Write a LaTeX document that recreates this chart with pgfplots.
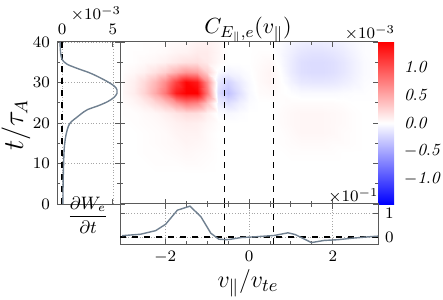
\documentclass[border=0pt]{standalone}
\usepackage{fontspec}
\usepackage{pgfplots}
\pgfplotsset{compat=1.18}
\definecolor{curve}{RGB}{112,128,144}
\definecolor{frame}{RGB}{90,90,90}
\begin{document}
\begin{tikzpicture}[font=\fontsize{8.5}{10}\selectfont]
\useasboundingbox (0,0) rectangle (221.5pt,149.5pt);
\pgfplotsset{
  every axis/.append style={
    scale only axis, anchor=south west,
    tick align=inside,
    tick label style={font=\fontsize{8.5}{10}\selectfont},
    axis line style={frame, line width=0.5pt},
    every tick/.style={frame, line width=0.4pt},
    major tick length=2.5pt, minor tick length=1.5pt,
  }
}
% ---------------- left panel ----------------
\begin{axis}[
  at={(28.5pt,47.5pt)}, width=31.5pt, height=81pt,
  xmin=-0.5, xmax=5.7, ymin=0, ymax=40,
  xtick={0,5}, ytick={0,10,20,30,40},
  minor y tick num=1,
  xticklabel pos=right,
  grid=major, grid style={densely dotted, gray!70, line width=0.3pt},
]
\addplot[black, dashed, line width=0.7pt] coordinates {(0,0) (0,40)};
\addplot[curve, line width=0.7pt, smooth] coordinates {
(0.08,0) (0.1,5) (0.15,10) (0.22,14) (0.38,17) (0.62,19.2) (0.9,20.3) (1.4,21.3)
(1.9,22.3) (2.5,23.3) (3.6,24.3) (4.5,25.3) (5.1,26.3) (5.4,27.3) (5.4,28.2)
(5.15,29.1) (4.4,30.3) (3.4,31.6) (2.6,32.5) (1.8,33.2) (0.95,34) (0.5,34.5)
(0.15,35.2) (0.0,35.7) (-0.13,37) (-0.18,38.5) (-0.2,40)};
\end{axis}
% ---------------- main panel ----------------
\begin{axis}[
  at={(60pt,47.5pt)}, width=129pt, height=81pt,
  view={0}{90},
  xmin=-3.08, xmax=3.08, ymin=0, ymax=40,
  xtick={-2,0,2}, minor x tick num=3,
  ytick={0,10,20,30,40}, minor y tick num=1,
  xticklabels={}, yticklabels={},
  axis on top,
  colormap={bwr}{rgb255(0cm)=(0,0,255); rgb255(1cm)=(255,255,255); rgb255(2cm)=(255,0,0)},
  point meta min=-1.45, point meta max=1.45,
  colorbar shift/.style={},
  colorbar,
  colorbar style={
    at={(parent axis.north east)}, anchor=north west,
    width=8pt,
    ytick={-1,-0.5,0,0.5,1},
    yticklabels={$-\mathit{1.0}$,$-\mathit{0.5}$,$\mathit{0.0}$,$\mathit{0.5}$,$\mathit{1.0}$},
    major tick length=0pt,
    yticklabel style={font=\fontsize{8.5}{10}\selectfont, xshift=1.5pt},
    axis line style={draw=none},
  },
]
\addplot3[surf, shader=interp, mesh/cols=25, point meta=z] coordinates {
(-3,0,0) (-2.75,0,0) (-2.5,0,0) (-2.25,0,0) (-2,0,0) (-1.75,0,0) (-1.5,0,0) (-1.25,0,0) (-1,0,0) (-0.75,0,0) (-0.5,0,0) (-0.25,0,0) (0,0,0) (0.25,0,0) (0.5,0,0) (0.75,0,0) (1,0,0) (1.25,0,0) (1.5,0,0) (1.75,0,0) (2,0,0) (2.25,0,0) (2.5,0,0) (2.75,0,0) (3,0,0)

(-3,7.5,0) (-2.75,7.5,0) (-2.5,7.5,0) (-2.25,7.5,0) (-2,7.5,0) (-1.75,7.5,0) (-1.5,7.5,0) (-1.25,7.5,0) (-1,7.5,0) (-0.75,7.5,0) (-0.5,7.5,0) (-0.25,7.5,0) (0,7.5,0) (0.25,7.5,0) (0.5,7.5,0) (0.75,7.5,0) (1,7.5,0) (1.25,7.5,0) (1.5,7.5,0) (1.75,7.5,0) (2,7.5,0) (2.25,7.5,0) (2.5,7.5,0) (2.75,7.5,0) (3,7.5,0)

(-3,10,0) (-2.75,10,0) (-2.5,10,0) (-2.25,10,0.01) (-2,10,0.01) (-1.75,10,0.01) (-1.5,10,0.02) (-1.25,10,0.02) (-1,10,0.01) (-0.75,10,0) (-0.5,10,0) (-0.25,10,0) (0,10,0) (0.25,10,0) (0.5,10,0) (0.75,10,0) (1,10,0) (1.25,10,0) (1.5,10,0) (1.75,10,0) (2,10,0) (2.25,10,0) (2.5,10,0) (2.75,10,0) (3,10,0)

(-3,12.5,0) (-2.75,12.5,0) (-2.5,12.5,0.01) (-2.25,12.5,0.01) (-2,12.5,0.02) (-1.75,12.5,0.03) (-1.5,12.5,0.04) (-1.25,12.5,0.03) (-1,12.5,0.02) (-0.75,12.5,0) (-0.5,12.5,0) (-0.25,12.5,0) (0,12.5,0) (0.25,12.5,0) (0.5,12.5,0) (0.75,12.5,0) (1,12.5,0.01) (1.25,12.5,0.01) (1.5,12.5,0.01) (1.75,12.5,0.01) (2,12.5,0.01) (2.25,12.5,0) (2.5,12.5,0) (2.75,12.5,0) (3,12.5,0)

(-3,15,0) (-2.75,15,0) (-2.5,15,0.01) (-2.25,15,0.02) (-2,15,0.03) (-1.75,15,0.04) (-1.5,15,0.06) (-1.25,15,0.05) (-1,15,0.03) (-0.75,15,0) (-0.5,15,0) (-0.25,15,0) (0,15,0) (0.25,15,0) (0.5,15,0) (0.75,15,0.01) (1,15,0.02) (1.25,15,0.03) (1.5,15,0.03) (1.75,15,0.03) (2,15,0.02) (2.25,15,0.02) (2.5,15,0.01) (2.75,15,0) (3,15,0)

(-3,17.5,0) (-2.75,17.5,0) (-2.5,17.5,0.01) (-2.25,17.5,0.02) (-2,17.5,0.03) (-1.75,17.5,0.06) (-1.5,17.5,0.07) (-1.25,17.5,0.07) (-1,17.5,0.03) (-0.75,17.5,0) (-0.5,17.5,0) (-0.25,17.5,0) (0,17.5,0) (0.25,17.5,0) (0.5,17.5,0) (0.75,17.5,0.01) (1,17.5,0.03) (1.25,17.5,0.05) (1.5,17.5,0.05) (1.75,17.5,0.05) (2,17.5,0.04) (2.25,17.5,0.02) (2.5,17.5,0.01) (2.75,17.5,0) (3,17.5,0)

(-3,20,0) (-2.75,20,0.01) (-2.5,20,0.02) (-2.25,20,0.03) (-2,20,0.05) (-1.75,20,0.08) (-1.5,20,0.10) (-1.25,20,0.09) (-1,20,0.05) (-0.75,20,0.01) (-0.5,20,0) (-0.25,20,0) (0,20,0) (0.25,20,0) (0.5,20,0) (0.75,20,0.02) (1,20,0.04) (1.25,20,0.05) (1.5,20,0.05) (1.75,20,0.05) (2,20,0.04) (2.25,20,0.03) (2.5,20,0.01) (2.75,20,0) (3,20,0)

(-3,22.5,0.01) (-2.75,22.5,0.01) (-2.5,22.5,0.03) (-2.25,22.5,0.05) (-2,22.5,0.09) (-1.75,22.5,0.15) (-1.5,22.5,0.20) (-1.25,22.5,0.19) (-1,22.5,0.09) (-0.75,22.5,-0.02) (-0.5,22.5,-0.04) (-0.25,22.5,-0.02) (0,22.5,0) (0.25,22.5,0) (0.5,22.5,0) (0.75,22.5,0.02) (1,22.5,0.04) (1.25,22.5,0.05) (1.5,22.5,0.05) (1.75,22.5,0.05) (2,22.5,0.04) (2.25,22.5,0.03) (2.5,22.5,0.01) (2.75,22.5,0) (3,22.5,0)

(-3,25,0.02) (-2.75,25,0.05) (-2.5,25,0.11) (-2.25,25,0.22) (-2,25,0.35) (-1.75,25,0.58) (-1.5,25,0.76) (-1.25,25,0.69) (-1,25,0.35) (-0.75,25,-0.10) (-0.5,25,-0.18) (-0.25,25,-0.09) (0,25,-0.02) (0.25,25,0) (0.5,25,0) (0.75,25,0.01) (1,25,0.02) (1.25,25,0.02) (1.5,25,0.02) (1.75,25,0.02) (2,25,0.02) (2.25,25,0.01) (2.5,25,0) (2.75,25,0) (3,25,0)

(-3,27.5,0.04) (-2.75,27.5,0.10) (-2.5,27.5,0.24) (-2.25,27.5,0.48) (-2,27.5,0.77) (-1.75,27.5,1.29) (-1.5,27.5,1.67) (-1.25,27.5,1.54) (-1,27.5,0.77) (-0.75,27.5,-0.19) (-0.5,27.5,-0.35) (-0.25,27.5,-0.18) (0,27.5,-0.04) (0.25,27.5,0.02) (0.5,27.5,0.03) (0.75,27.5,0.01) (1,27.5,-0.01) (1.25,27.5,-0.03) (1.5,27.5,-0.03) (1.75,27.5,-0.03) (2,27.5,-0.03) (2.25,27.5,-0.02) (2.5,27.5,-0.01) (2.75,27.5,-0.01) (3,27.5,0)

(-3,30,0.03) (-2.75,30,0.09) (-2.5,30,0.21) (-2.25,30,0.41) (-2,30,0.66) (-1.75,30,1.09) (-1.5,30,1.42) (-1.25,30,1.31) (-1,30,0.66) (-0.75,30,-0.12) (-0.5,30,-0.25) (-0.25,30,-0.12) (0,30,-0.03) (0.25,30,0.03) (0.5,30,0.06) (0.75,30,0.01) (1,30,-0.07) (1.25,30,-0.13) (1.5,30,-0.14) (1.75,30,-0.14) (2,30,-0.13) (2.25,30,-0.10) (2.5,30,-0.06) (2.75,30,-0.02) (3,30,-0.01)

(-3,32.5,0.01) (-2.75,32.5,0.04) (-2.5,32.5,0.08) (-2.25,32.5,0.17) (-2,32.5,0.27) (-1.75,32.5,0.45) (-1.5,32.5,0.59) (-1.25,32.5,0.54) (-1,32.5,0.27) (-0.75,32.5,-0.02) (-0.5,32.5,-0.07) (-0.25,32.5,-0.04) (0,32.5,-0.01) (0.25,32.5,0.03) (0.5,32.5,0.06) (0.75,32.5,0) (1,32.5,-0.11) (1.25,32.5,-0.18) (1.5,32.5,-0.20) (1.75,32.5,-0.20) (2,32.5,-0.18) (2.25,32.5,-0.14) (2.5,32.5,-0.08) (2.75,32.5,-0.03) (3,32.5,-0.01)

(-3,35,0) (-2.75,35,0.01) (-2.5,35,0.03) (-2.25,35,0.05) (-2,35,0.08) (-1.75,35,0.13) (-1.5,35,0.17) (-1.25,35,0.18) (-1,35,0.12) (-0.75,35,0.04) (-0.5,35,0) (-0.25,35,0) (0,35,0) (0.25,35,0.02) (0.5,35,0.04) (0.75,35,-0.02) (1,35,-0.11) (1.25,35,-0.18) (1.5,35,-0.20) (1.75,35,-0.20) (2,35,-0.18) (2.25,35,-0.14) (2.5,35,-0.08) (2.75,35,-0.03) (3,35,-0.01)

(-3,37.5,0) (-2.75,37.5,0.01) (-2.5,37.5,0.01) (-2.25,37.5,0.02) (-2,37.5,0.03) (-1.75,37.5,0.06) (-1.5,37.5,0.07) (-1.25,37.5,0.11) (-1,37.5,0.11) (-0.75,37.5,0.05) (-0.5,37.5,0) (-0.25,37.5,0) (0,37.5,0) (0.25,37.5,0.01) (0.5,37.5,0.01) (0.75,37.5,-0.03) (1,37.5,-0.09) (1.25,37.5,-0.14) (1.5,37.5,-0.16) (1.75,37.5,-0.16) (2,37.5,-0.14) (2.25,37.5,-0.11) (2.5,37.5,-0.06) (2.75,37.5,-0.02) (3,37.5,-0.01)

(-3,40,0) (-2.75,40,0) (-2.5,40,0.01) (-2.25,40,0.01) (-2,40,0.02) (-1.75,40,0.03) (-1.5,40,0.04) (-1.25,40,0.07) (-1,40,0.08) (-0.75,40,0.04) (-0.5,40,0) (-0.25,40,0) (0,40,0) (0.25,40,0) (0.5,40,0) (0.75,40,-0.02) (1,40,-0.06) (1.25,40,-0.09) (1.5,40,-0.10) (1.75,40,-0.10) (2,40,-0.09) (2.25,40,-0.07) (2.5,40,-0.04) (2.75,40,-0.02) (3,40,-0.01)
};
\addplot3[black, dashed, line width=0.5pt] coordinates {(-0.59,0,0) (-0.59,40,0)};
\addplot3[black, dashed, line width=0.5pt] coordinates {(0.59,0,0) (0.59,40,0)};
\end{axis}
% ---------------- bottom panel ----------------
\begin{axis}[
  at={(60pt,27.5pt)}, width=129pt, height=20pt,
  xmin=-3.08, xmax=3.08, ymin=-0.3, ymax=1.38,
  xtick={-2,0,2}, minor x tick num=3,
  ytick={0,1},
  yticklabel pos=right,
  grid=major, grid style={densely dotted, gray!70, line width=0.3pt},
]
\addplot[black, dashed, line width=0.8pt] coordinates {(-3.08,0) (3.08,0)};
\addplot[black, dashed, line width=0.5pt] coordinates {(-0.59,-0.3) (-0.59,1.38)};
\addplot[black, dashed, line width=0.5pt] coordinates {(0.59,-0.3) (0.59,1.38)};
\addplot[curve, line width=0.7pt] coordinates {
(-3.03,0.05) (-2.59,0.11) (-2.23,0.26) (-1.99,0.53) (-1.71,1.12) (-1.41,1.29)
(-1.15,0.85) (-0.91,0.15) (-0.72,-0.10) (-0.51,-0.12) (-0.19,-0.03) (0.13,0.0)
(0.61,0.06) (0.93,0.17) (1.1,0.1) (1.49,-0.24) (1.8,-0.15) (2.12,-0.12)
(2.44,-0.06) (2.84,0.0) (3.08,0.03)};
\end{axis}
% ---------------- texts ----------------
\node at (48pt,142.5pt) {$\times10^{-3}$};
\node at (185pt,133pt) {$\times10^{-3}$};
\node at (176.75pt,51.5pt) {$\times10^{-1}$};
\node[anchor=base, font=\fontsize{11}{13}\selectfont] at (124pt,132.5pt) {$C_{E_\parallel,e}(v_\parallel)$};
\node[anchor=base, font=\fontsize{12.5}{15}\selectfont] at (124pt,5.8pt) {$v_\parallel/v_{te}$};
\node[anchor=base, rotate=90, font=\fontsize{13.5}{16}\selectfont] at (11.5pt,87pt) {$t/\tau_A$};
\node[font=\fontsize{9}{11}\selectfont] at (44pt,42pt) {$\displaystyle\frac{\partial W_e}{\partial t}$};
\end{tikzpicture}
\end{document}
